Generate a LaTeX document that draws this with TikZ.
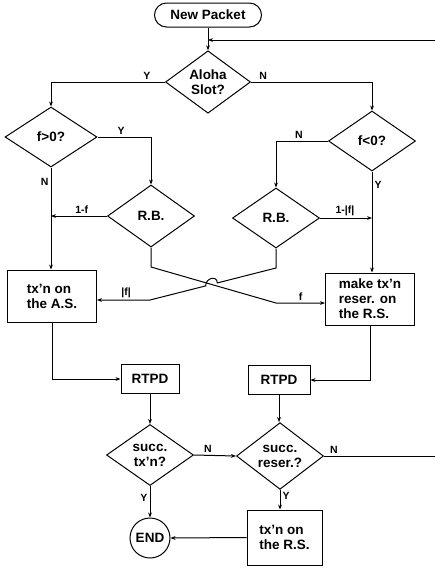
\documentclass[tikz,border=0pt]{standalone}
\usepackage{fontspec}
\setmainfont{Liberation Sans}
\usetikzlibrary{shapes.geometric, arrows.meta, calc}

\begin{document}
\begin{tikzpicture}[
    x=1pt, y=-1pt,
    line width=1pt,
    every node/.style={font=\fontsize{13.5}{15}\selectfont\bfseries},
    arr/.style={-{Stealth[length=5pt,width=3.8pt]}},
    decision/.style={diamond, draw, inner sep=0pt, align=center,
                     minimum width=#1, minimum height=60pt},
    decision/.default=87pt,
    procbox/.style={rectangle, draw, align=left, minimum width=#1, minimum height=52pt},
    procbox/.default=89pt,
    lbl/.style={font=\fontsize{10.5}{12}\selectfont\bfseries, inner sep=2pt}
]
    \useasboundingbox (0,0) rectangle (435,571);

    \node[rectangle, rounded corners=12pt, draw, minimum width=107pt, minimum height=24pt] (packet) at (208,15) {New Packet};
    \node[decision=85pt] (aloha) at (208,82) {Aloha\\Slot?};
    \node[decision=92pt] (fpos) at (51,137) {f>0?};
    \node[decision=87pt] (fneg) at (372,141) {f<0?};
    \node[decision, minimum height=62pt] (rbl) at (151,216) {R.B.};
    \node[decision, minimum height=60pt] (rbr) at (276,218) {R.B.};
    \node[procbox] (txas) at (52,296) {tx'n on\\the A.S.};
    \node[procbox] (makers) at (370,299) {make tx'n\\reser. on\\the R.S.};
    \node[rectangle, draw, minimum width=58pt, minimum height=29pt] (rtpdl) at (150,379) {RTPD};
    \node[rectangle, draw, minimum width=62pt, minimum height=29pt] (rtpdr) at (279,380) {RTPD};
    \node[decision, minimum height=61pt] (succtx) at (150,455) {succ.\\tx'n?};
    \node[decision, minimum height=61pt] (succres) at (280,456) {succ.\\reser.?};
    \node[procbox=75pt, minimum height=55pt] (txrs) at (284.5,537.5) {tx'n on\\the R.S.};
    \node[circle, draw, minimum size=40pt, inner sep=0pt] (finish) at (150,538) {END};

    % free ends at the right edge
    \coordinate (loopin) at (435,40);
    \coordinate (join) at (208,40);
    \coordinate (exit) at (435,456);

    % bends of the crossing lines
    \coordinate (ka) at (151,267);
    \coordinate (kb) at (276,303);
    \coordinate (kc) at (276,268);
    \coordinate (kd) at (150,300);
    \coordinate (hop) at (intersection of ka--kb and kc--kd);

    % Arrows
    \draw[arr] (packet) -- (aloha);
    \draw[arr] (loopin) -- (join);
    \draw[arr] (aloha.west) -| node[lbl, pos=0.08, above] {Y} (fpos.north);
    \draw[arr] (aloha.east) -| node[lbl, pos=0.05, above] {N} (fneg.north);
    \draw[arr] (fpos.east) -| node[lbl, pos=0.22, above] {Y} (rbl.north);
    \draw[arr] (fneg.west) -| node[lbl, pos=0.28, above] {N} (rbr.north);
    \draw[arr] (fpos.south) -- node[lbl, pos=0.14, left] {N} (fpos.south |- txas.north);
    \draw[arr] (fneg.south) -- node[lbl, pos=0.13, right] {Y} (fneg.south |- makers.north);
    \draw[arr] (rbl.west) -- node[lbl, pos=0.45, above] {1-f} (rbl.west -| fpos.south);
    \draw[arr] (rbr.east) -- node[lbl, pos=0.48, above] {1-|f|} (rbr.east -| fneg.south);

    % crossing lines
    \draw[arr] (rbl.south) -- (ka) -- (kb) -- node[lbl, pos=0.5, above] {f} (kb -| makers.west);
    \draw[arr] (rbr.south) -- (kc) -- ($(hop)!6pt!(kc)$)
        .. controls +(0,-8) and +(0,-8) .. ($(hop)!6pt!(kd)$)
        -- (kd) -- node[lbl, pos=0.45, above] {|f|} (kd -| txas.east);

    \draw[arr] (txas.south) |- (rtpdl.west);
    \draw[arr] (makers.south) |- (rtpdr.east);
    \draw[arr] (rtpdl) -- (succtx);
    \draw[arr] (rtpdr.south) -- (rtpdr.south |- succres.north);
    \draw[arr] (succtx.east) -- node[lbl, pos=0.33, above] {N} (succres.west);
    \draw (succres.east) -- node[lbl, pos=0.09, above] {N} (exit);
    \draw[arr] (succtx) -- node[lbl, pos=0.38, left] {Y} (finish);
    \draw[arr] (succres.south) -- node[lbl, pos=0.3, right] {Y} (succres.south |- txrs.north);
    \draw[arr] (txrs.west) -- (finish.east);
\end{tikzpicture}
\end{document}
